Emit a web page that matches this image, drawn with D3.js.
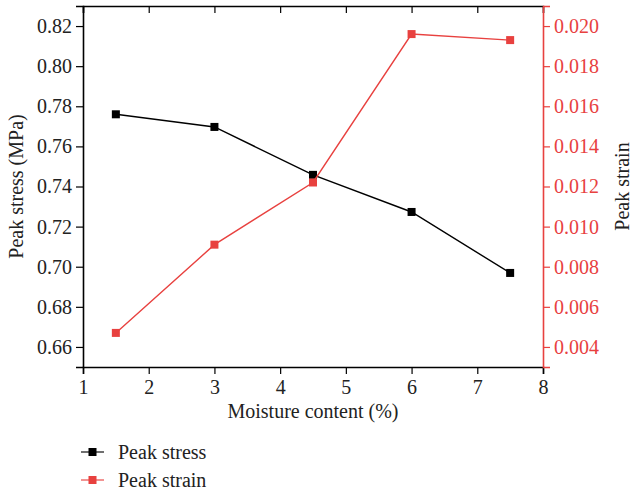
<!DOCTYPE html>
<html>
<head>
<meta charset="utf-8">
<script src="https://cdn.jsdelivr.net/npm/d3@7"></script>
<style>
body { margin: 0; background: #fff; }
text { font-family: "Liberation Serif", "DejaVu Serif", serif; }
</style>
</head>
<body>
<svg width="632" height="492"></svg>
<script>
var svg = d3.select("svg");

// moisture content (%)
var moisture = [1.5, 3, 4.5, 6, 7.5];
// peak stress (MPa)
var peakStress = [0.776, 0.7697, 0.7458, 0.7273, 0.6969];
// peak strain
var peakStrain = [0.0047, 0.0091, 0.0122, 0.0196, 0.0193];

var xTicks = [1, 2, 3, 4, 5, 6, 7, 8];
var stressTicks = [0.66, 0.68, 0.70, 0.72, 0.74, 0.76, 0.78, 0.80, 0.82];
var strainTicks = [0.004, 0.006, 0.008, 0.010, 0.012, 0.014, 0.016, 0.018, 0.020];

var red = "#e8413f";
var fs = 20;
var pLeft = 83, pRight = 543, pTop = 6, pBottom = 367;

var x = d3.scaleLinear().domain([1, 8]).range([pLeft, pRight]);
var yL = d3.scaleLinear().domain([0.65, 0.83]).range([pBottom, pTop]);
var yR = d3.scaleLinear().domain([0.003, 0.021]).range([pBottom, pTop]);

//minor ticks halfway between majors
function minors(scale, step) {
	var d = scale.domain(), out = [];
	for (var v = d[0]; v <= d[1] + 1e-9; v += step) out.push(+v.toFixed(6));
	return out;
}

// bottom axis
var gx = svg.append("g").attr("transform", "translate(0," + pBottom + ")");
gx.call(d3.axisBottom(x).tickValues(minors(x, 0.5)).tickSize(4).tickFormat(""));
gx.call(d3.axisBottom(x).tickValues(xTicks).tickSize(7).tickFormat(d3.format("d")));
gx.selectAll("text").attr("font-size", fs).attr("fill", "#222").attr("dy", "0.85em");

// top axis (ticks inside)
var gt = svg.append("g").attr("transform", "translate(0," + pTop + ")");
gt.call(d3.axisBottom(x).tickValues(minors(x, 0.5)).tickSize(4).tickFormat(""));
gt.call(d3.axisBottom(x).tickValues(xTicks).tickSize(7).tickFormat(""));

// left axis
var gl = svg.append("g").attr("transform", "translate(" + pLeft + ",0)");
gl.call(d3.axisLeft(yL).tickValues(minors(yL, 0.01)).tickSize(4).tickFormat(""));
gl.call(d3.axisLeft(yL).tickValues(stressTicks).tickSize(7).tickFormat(d3.format(".2f")));
gl.selectAll("text").attr("font-size", fs).attr("fill", "#222").attr("dx", "-0.05em");

// right axis
var gr = svg.append("g").attr("transform", "translate(" + pRight + ",0)");
gr.call(d3.axisRight(yR).tickValues(minors(yR, 0.001)).tickSize(4).tickFormat(""));
gr.call(d3.axisRight(yR).tickValues(strainTicks).tickSize(7).tickFormat(d3.format(".3f")));
gr.selectAll("text").attr("font-size", fs).attr("fill", red).attr("dx", "0.05em");

svg.selectAll(".domain").attr("stroke-width", 1.6);
svg.selectAll(".tick line").attr("stroke-width", 1.2);
gr.selectAll(".domain, .tick line").attr("stroke", red);

// axis titles
svg.append("text").attr("x", (pLeft + pRight) / 2).attr("y", 418)
	.attr("text-anchor", "middle").attr("font-size", fs).attr("fill", "#222")
	.text("Moisture content (%)");
svg.append("text").attr("transform", "translate(23," + ((pTop + pBottom) / 2) + ") rotate(-90)")
	.attr("text-anchor", "middle").attr("font-size", fs).attr("fill", "#222")
	.text("Peak stress (MPa)");
svg.append("text").attr("transform", "translate(629," + ((pTop + pBottom) / 2) + ") rotate(-90)")
	.attr("text-anchor", "middle").attr("font-size", fs).attr("fill", "#222")
	.text("Peak strain");

// series
function series(vals, y, color) {
	var pts = moisture.map(function (m, i) { return [x(m), y(vals[i])]; });
	svg.append("path").attr("d", d3.line()(pts))
		.attr("fill", "none").attr("stroke", color).attr("stroke-width", 1.4);
	svg.selectAll(null).data(pts).enter().append("rect")
		.attr("x", function (d) { return d[0] - 4; })
		.attr("y", function (d) { return d[1] - 4; })
		.attr("width", 8).attr("height", 8).attr("fill", color);
}
series(peakStress, yL, "#000");
series(peakStrain, yR, red);

// legend
var legend = [["Peak stress", "#000"], ["Peak strain", red]];
var lg = svg.selectAll(".lg").data(legend).enter().append("g")
	.attr("transform", function (d, i) { return "translate(0," + (452 + i * 28) + ")"; });
lg.append("line").attr("x1", 81).attr("x2", 104)
	.attr("stroke", function (d) { return d[1]; }).attr("stroke-width", 1.4).attr("opacity", 0.8);
lg.append("rect").attr("x", 88.5).attr("y", -4).attr("width", 8).attr("height", 8)
	.attr("fill", function (d) { return d[1]; });
lg.append("text").attr("x", 118).attr("y", 7).attr("font-size", fs).attr("fill", "#222")
	.text(function (d) { return d[0]; });
</script>
</body>
</html>
